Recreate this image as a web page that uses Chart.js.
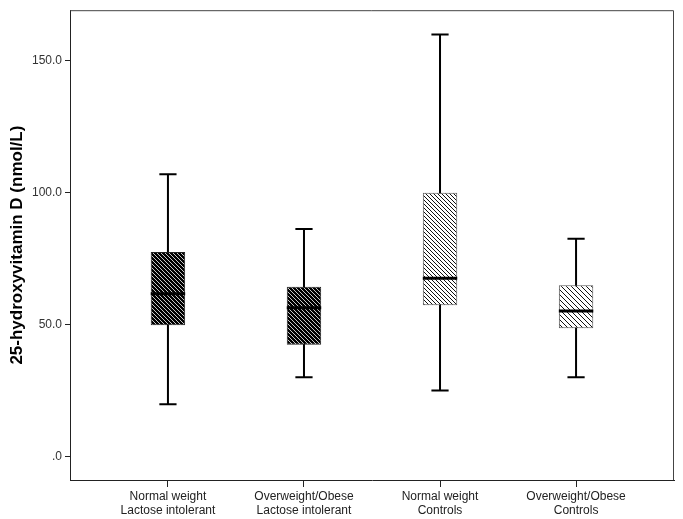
<!DOCTYPE html>
<html>
<head>
<meta charset="utf-8">
<script src="https://cdn.jsdelivr.net/npm/chart.js@4"></script>
<style>
  html, body { margin: 0; padding: 0; background: #fff; }
</style>
</head>
<body>
<canvas id="boxChart" width="683" height="519"></canvas>
<script>
// box plot values (nmol/L)
const groups = [
    ['Normal weight', 'Lactose intolerant'],
    ['Overweight/Obese', 'Lactose intolerant'],
    ['Normal weight', 'Controls'],
    ['Overweight/Obese', 'Controls']
];
const whiskerLow = [19.7, 29.9, 24.9, 29.9];
const q1 = [49.6, 42.2, 57.2, 48.5];
const medians = [61.6, 56.3, 67.4, 55.0];
const q3 = [77.4, 64.2, 99.8, 64.8];
const whiskerHigh = [106.8, 86.1, 159.8, 82.4];
const yTicks = [0, 50, 100, 150];
const yTickLabels = ['.0', '50.0', '100.0', '150.0'];

const canvas = document.getElementById('boxChart');
const ctx = canvas.getContext('2d');

// diagonal hatch fill like the SPSS boxes
function hatch(bg, fg, step) {
    const c = document.createElement('canvas');
    c.width = step;
    c.height = step;
    const g = c.getContext('2d');
    g.fillStyle = bg;
    g.fillRect(0, 0, step, step);
    g.strokeStyle = fg;
    g.lineWidth = 1;
    g.beginPath();
    for (let k = -1; k <= 1; k++) {
        g.moveTo(k * step, 0);
        g.lineTo(k * step + step, step);
    }
    g.stroke();
    return ctx.createPattern(c, 'repeat');
}

const fills = [
    hatch('#000', '#c8c8c8', 4),
    hatch('#000', '#c8c8c8', 4),
    hatch('#fff', '#111', 4),
    hatch('#fff', '#111', 5)
];

const boxPlotLines = {
    id: 'boxPlotLines',
    beforeDatasetsDraw(chart) {
        const c = chart.ctx;
        const y = chart.scales.y;
        const meta = chart.getDatasetMeta(0);
        c.save();
        c.strokeStyle = '#000';
        c.lineWidth = 2;
        meta.data.forEach((bar, i) => {
            const lo = y.getPixelForValue(whiskerLow[i]);
            const hi = y.getPixelForValue(whiskerHigh[i]);
            const cap = bar.width / 4;
            c.beginPath();
            c.moveTo(bar.x, hi);
            c.lineTo(bar.x, lo);
            c.moveTo(bar.x - cap, hi);
            c.lineTo(bar.x + cap, hi);
            c.moveTo(bar.x - cap, lo);
            c.lineTo(bar.x + cap, lo);
            c.stroke();
        });
        c.restore();
    },
    afterDatasetsDraw(chart) {
        const c = chart.ctx;
        const y = chart.scales.y;
        const meta = chart.getDatasetMeta(0);
        c.save();
        c.strokeStyle = '#000';
        c.lineWidth = 3;
        meta.data.forEach((bar, i) => {
            const m = y.getPixelForValue(medians[i]);
            c.beginPath();
            c.moveTo(bar.x - bar.width / 2, m);
            c.lineTo(bar.x + bar.width / 2, m);
            c.stroke();
        });
        // top and right frame
        const a = chart.chartArea;
        c.strokeStyle = '#444';
        c.lineWidth = 1;
        c.beginPath();
        c.moveTo(a.left, a.top + 0.5);
        c.lineTo(a.right - 0.5, a.top + 0.5);
        c.lineTo(a.right - 0.5, a.bottom);
        c.stroke();
        c.restore();
    }
};

new Chart(ctx, {
    type: 'bar',
    data: {
        datasets: [{
            data: groups.map((g, i) => ({ x: i, y: [q1[i], q3[i]] })),
            backgroundColor: fills,
            borderColor: ['#222', '#222', '#555', '#555'],
            borderWidth: 1,
            borderSkipped: false,
            barPercentage: 0.253,
            categoryPercentage: 1
        }]
    },
    options: {
        responsive: false,
        animation: false,
        layout: { padding: { top: 7, right: 9, left: 0, bottom: 0 } },
        plugins: {
            legend: { display: false },
            tooltip: { enabled: false }
        },
        scales: {
            x: {
                type: 'linear',
                min: -0.72,
                max: 3.72,
                offset: false,
                grid: { display: true, drawOnChartArea: false, offset: false, tickLength: 7, tickColor: '#222' },
                border: { color: '#222', width: 1 },
                afterBuildTicks: scale => { scale.ticks = groups.map((g, i) => ({ value: i })); },
                afterFit: scale => { scale.height = 39; },
                ticks: {
                    autoSkip: false,
                    maxRotation: 0,
                    padding: 2,
                    color: '#222',
                    font: { family: 'Liberation Sans, Arial, sans-serif', size: 12 },
                    callback: v => groups[v]
                }
            },
            y: {
                min: -9,
                max: 169,
                grid: { display: true, drawOnChartArea: false, tickLength: 5, tickColor: '#222' },
                border: { color: '#222', width: 1 },
                afterBuildTicks: scale => { scale.ticks = yTicks.map(v => ({ value: v })); },
                afterFit: scale => { scale.width = 70; },
                ticks: {
                    padding: 3,
                    color: '#333',
                    font: { family: 'Liberation Sans, Arial, sans-serif', size: 12 },
                    callback: v => yTickLabels[yTicks.indexOf(v)]
                },
                title: {
                    display: true,
                    text: '25-hydroxyvitamin D (nmol/L)',
                    color: '#000',
                    padding: { top: 7, bottom: 0 },
                    font: { family: 'Liberation Sans, Arial, sans-serif', size: 17, weight: 'bold' }
                }
            }
        }
    },
    plugins: [boxPlotLines]
});
</script>
</body>
</html>
